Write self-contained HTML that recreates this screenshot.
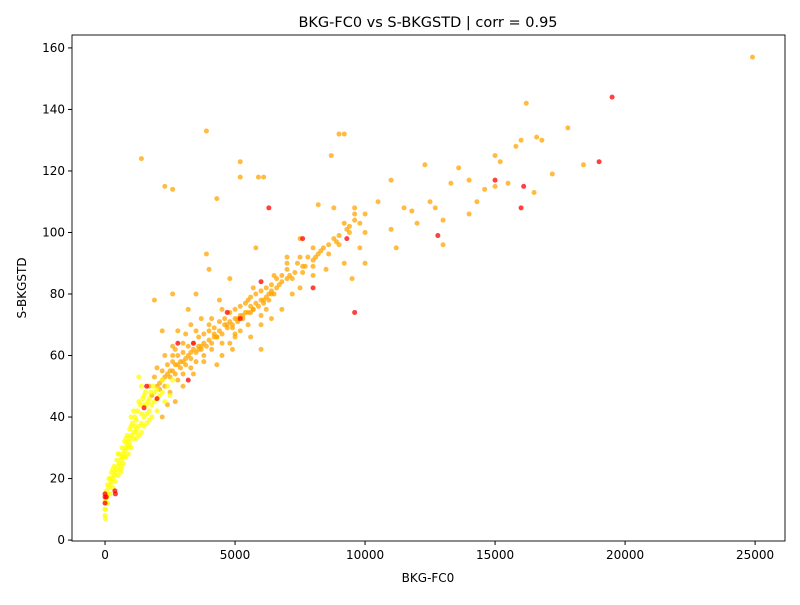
<!DOCTYPE html>
<html><head><meta charset="utf-8">
<style>
body{margin:0;background:#fff;font-family:"Liberation Sans","DejaVu Sans",sans-serif;}
svg text{font-family:"DejaVu Sans","Liberation Sans",sans-serif;}
</style></head>
<body>
<svg id="chart" width="800" height="600" viewBox="0 0 800 600">
<rect width="800" height="600" fill="#fff"/>
<text x="428" y="27" font-size="14.5" text-anchor="middle">BKG-FC0 vs S-BKGSTD | corr = 0.95</text>
<text x="428" y="582" font-size="12" text-anchor="middle">BKG-FC0</text>
<text x="26" y="288" font-size="12" text-anchor="middle" transform="rotate(-90 26 288)">S-BKGSTD</text>
<g id="marks"></g>
<g id="axes"></g>
</svg>
<script>
const xTicks=[0,5000,10000,15000,20000,25000];
const yTicks=[0,20,40,60,80,100,120,140,160];
const orangeX=[2000,2200,2400,2600,2800,3000,3200,3400,3600,3800,4000,4200,4400,4600,4800,5000,5200,5400,5600,5800,6000,6200,6400,6600,6800,7000,7300,7600,8000,8300,8600,9000,9300,9600,10000,2500,2800,3000,3300,3500,3800,4100,4500,5000,5500,6000,2600,3000,3500,3000,2700,2400,2200,4000,4500,5500,6500,7000,7500,8000,6800,6000,5000,4500,3900,4000,3500,2800,2200,2600,1400,2300,2600,3900,4300,5200,5200,5900,6100,5800,7000,7500,8200,8700,9000,9200,8800,9600,10000,10500,11000,11500,11800,12000,12500,12300,12700,13000,13300,13600,14000,14300,14600,15000,15200,15500,15800,16000,16200,16600,16800,17200,17800,18400,14000,15000,16500,9500,10000,11000,13000,7500,8500,24900,1900,3200,4800,9800,9200,11200,2100,2300,2500,2700,2900,3100,3300,3700,4300,4700,5100,5300,5700,6100,6300,6700,7100,7700,8100,8900,9400,3600,4200,4900,5600,6400,
2100,2200,2300,2400,2500,2600,2700,2800,2900,3000,3100,3200,3300,3400,3500,3600,3700,3800,3900,4000,4100,4200,4300,4400,4500,4600,4700,4800,4900,5000,5100,5200,5300,5400,5500,5600,5700,5800,5900,6000,6100,6200,6300,6400,6500,6600,6800,7000,7200,7400,7600,7800,8000,8200,8400,8600,8800,9000,9200,9400,9600,9800,2000,2300,2600,3100,3300,3700,4100,4400,4800,5200,5700,6200,1700,1900,1800,2700,3400,3800,4300,4900,5600,6000,6400,7200,8000];
const orangeY=[50,52,54,55,57,58,60,62,63,64,65,67,68,70,71,72,73,74,76,77,78,79,80,82,84,85,87,89,91,94,96,99,101,104,106,48,52,54,56,58,60,62,64,67,70,73,60,64,68,50,45,44,40,70,75,78,86,90,92,95,75,70,66,60,93,88,80,68,68,80,124,115,114,133,111,123,118,118,118,95,92,98,109,125,132,132,108,108,100,110,117,108,107,103,110,122,108,104,116,121,117,110,114,125,123,116,128,130,142,131,130,119,134,122,106,115,113,85,90,101,96,82,88,157,78,75,85,95,90,95,51,53,55,57,58,59,61,63,66,70,72,73,75,78,80,83,86,89,92,97,102,62,66,69,74,81,
49,55,50,57,53,58,54,60,56,61,57,63,59,64,61,66,62,67,63,68,64,69,66,71,67,72,69,74,70,75,71,76,72,77,74,79,75,80,76,81,77,82,78,83,80,85,86,88,85,90,87,92,89,93,95,93,98,96,103,100,106,103,56,60,63,67,70,72,72,78,64,68,82,75,50,53,47,62,54,58,57,62,66,62,72,80,86];
const yellowX=[0,20,50,80,100,150,200,250,300,350,400,450,500,550,600,650,700,750,800,850,900,950,1000,1100,1200,1300,1400,1500,1600,1700,1800,1900,2000,2100,2200,2400,2600,1000,1200,1400,1600,1800,2000,800,1000,1200,1500,1700,1400,1300,500,600,1900,2300,2500,900,700,300,200,100,
150,250,350,450,550,650,750,850,950,1050,1150,1250,1350,1450,1550,1650,1750,1850,400,500,600,700,800,900,1100,1200,1300,1400,1500,1600,1700,2000,2200,300,200,100,50,0,0,20,1000,1100,1300,1500,1150,950,750,650];
const yellowY=[8,10,12,14,15,17,18,19,20,21,22,23,24,25,26,27,28,29,30,31,32,33,34,35,36,37,38,40,41,42,44,45,46,47,48,50,52,30,33,35,38,40,42,33,37,39,44,46,50,53,28,22,48,45,47,28,25,17,15,12,
20,22,24,26,28,30,32,34,36,38,40,42,44,46,48,45,48,50,19,21,23,27,27,30,33,35,34,41,37,44,39,49,52,23,20,18,16,10,13,7,40,42,45,47,37,31,27,24];
const redX=[0,0,50,400,1600,2800,3400,3200,4700,5200,6300,7600,9300,9600,12800,15000,16000,16100,19000,19500,2000,1500,8000,6000,0,380];
const redY=[12,15,14,15,50,64,64,52,74,72,108,98,98,74,99,117,108,115,123,144,46,43,82,84,14,16];

const L=72,R=785,T=35,B=541;
const xMin=-1270,xMax=26150,yMin=-0.3,yMax=164.2;
const sx=v=>L+(v-xMin)/(xMax-xMin)*(R-L);
const sy=v=>B-(v-yMin)/(yMax-yMin)*(B-T);
const NS="http://www.w3.org/2000/svg";
const marks=document.getElementById('marks');
function series(xs,ys,color,name){
  for(let i=0;i<xs.length;i++){
    const c=document.createElementNS(NS,'circle');
    c.setAttribute('cx',sx(xs[i]));c.setAttribute('cy',sy(ys[i]));
    c.setAttribute('r',2.5);c.setAttribute('fill',color);c.setAttribute('fill-opacity',0.75);
    
    
    marks.appendChild(c);
  }
}
series(orangeX,orangeY,'#ffa500','orange-point');
series(yellowX,yellowY,'#ffff00','yellow-point');
series(redX,redY,'#ff0000','red-point');

const axes=document.getElementById('axes');
const frame=document.createElementNS(NS,'rect');
frame.setAttribute('x',L);frame.setAttribute('y',T);frame.setAttribute('width',R-L);frame.setAttribute('height',B-T);
frame.setAttribute('fill','none');frame.setAttribute('stroke','#000');frame.setAttribute('stroke-width',0.9);


axes.appendChild(frame);
xTicks.forEach(t=>{
  const x=sx(t);
  const l=document.createElementNS(NS,'line');
  l.setAttribute('x1',x);l.setAttribute('x2',x);l.setAttribute('y1',B);l.setAttribute('y2',B+4);l.setAttribute('stroke','#000');
  
  
  axes.appendChild(l);
  const tx=document.createElementNS(NS,'text');
  tx.setAttribute('x',x);tx.setAttribute('y',B+18);tx.setAttribute('font-size','12');tx.setAttribute('text-anchor','middle');
  tx.textContent=t;
  
  
  axes.appendChild(tx);
});
yTicks.forEach(t=>{
  const y=sy(t);
  const l=document.createElementNS(NS,'line');
  l.setAttribute('x1',L-4);l.setAttribute('x2',L);l.setAttribute('y1',y);l.setAttribute('y2',y);l.setAttribute('stroke','#000');
  
  
  axes.appendChild(l);
  const tx=document.createElementNS(NS,'text');
  tx.setAttribute('x',L-7);tx.setAttribute('y',y+4);tx.setAttribute('font-size','12');tx.setAttribute('text-anchor','end');
  tx.textContent=t;
  
  
  axes.appendChild(tx);
});
</script>
</body></html>
